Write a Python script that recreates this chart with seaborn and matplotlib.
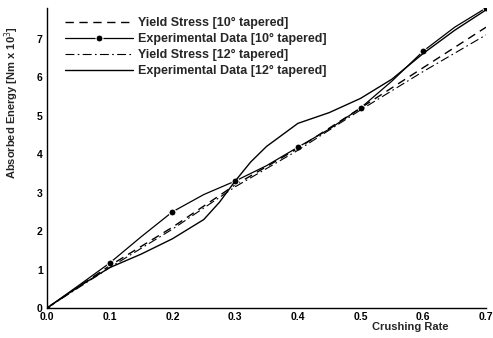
import numpy as np
import pandas as pd
import matplotlib
matplotlib.use("Agg")
import matplotlib.pyplot as plt
from matplotlib.ticker import MultipleLocator, FormatStrFormatter
import seaborn as sns

# ---- data ----
rate_yield = [0.0, 0.1, 0.2, 0.3, 0.4, 0.5, 0.6, 0.7]
yield_10 = [0.0, 1.1, 2.1, 3.2, 4.15, 5.2, 6.25, 7.3]
yield_12 = [0.0, 1.05, 2.05, 3.15, 4.1, 5.15, 6.15, 7.1]

rate_exp10 = [0.0, 0.05, 0.1, 0.15, 0.2, 0.25, 0.3, 0.35, 0.4, 0.45, 0.5, 0.55, 0.6, 0.65, 0.7]
exp_10 = [0.0, 0.58, 1.17, 1.85, 2.5, 2.95, 3.3, 3.7, 4.18, 4.65, 5.2, 5.9, 6.68, 7.3, 7.8]

rate_exp12 = [0.0, 0.05, 0.1, 0.15, 0.2, 0.25, 0.275, 0.3, 0.325, 0.35, 0.4, 0.45, 0.5, 0.55, 0.6, 0.65, 0.7]
exp_12 = [0.0, 0.55, 1.05, 1.4, 1.8, 2.3, 2.75, 3.3, 3.8, 4.2, 4.8, 5.08, 5.45, 5.95, 6.62, 7.22, 7.75]

labels = ["Yield Stress [10° tapered]", "Experimental Data [10° tapered]",
          "Yield Stress [12° tapered]", "Experimental Data [12° tapered]"]

sns.set_style("white")
plt.rcParams['font.family'] = ['Liberation Sans', 'DejaVu Sans']

fig = plt.figure(figsize=(4.93, 3.38), dpi=100)
ax = fig.add_axes([47/493, 1-308/338, (486-47)/493, (308-8)/338])

sns.lineplot(x=rate_yield, y=yield_10, ax=ax, color='black', lw=1.0,
             linestyle=(0, (6, 4)), label=labels[0], sort=False)
sns.lineplot(x=rate_exp10, y=exp_10, ax=ax, color='black', lw=0.9,
             marker='o', markersize=5, markevery=2, label=labels[1], sort=False)
sns.lineplot(x=rate_yield, y=yield_12, ax=ax, color='black', lw=0.8,
             linestyle=(0, (8, 3, 1.5, 3)), label=labels[2], sort=False)
sns.lineplot(x=rate_exp12, y=exp_12, ax=ax, color='black', lw=1.0,
             label=labels[3], sort=False)

ax.set_xlim(0, 0.7)
ax.set_ylim(0, 7.8)
ax.xaxis.set_major_locator(MultipleLocator(0.1))
ax.xaxis.set_minor_locator(MultipleLocator(0.02))
ax.yaxis.set_major_locator(MultipleLocator(1))
ax.yaxis.set_minor_locator(MultipleLocator(0.2))
ax.xaxis.set_major_formatter(FormatStrFormatter('%.1f'))
ax.yaxis.set_major_formatter(FormatStrFormatter('%d'))
ax.tick_params(which='major', direction='in', length=6, width=0.9, colors='black',
               labelsize=7.5, pad=3)
ax.tick_params(which='minor', direction='in', length=3, width=0.8, colors='black')
for lab in ax.get_xticklabels() + ax.get_yticklabels():
    lab.set_fontweight('bold')

sns.despine(ax=ax)
for s in ['left', 'bottom']:
    ax.spines[s].set_color('black')
    ax.spines[s].set_linewidth(1.0)

ax.set_xlabel("Crushing Rate", fontsize=8, fontweight='bold')
ax.xaxis.set_label_coords((410 - 47) / 439, -0.045)
ax.set_ylabel("Absorbed Energy [Nm x 10$^3$]", fontsize=8, fontweight='bold')
ax.yaxis.set_label_coords(-(47 - 21) / 439, 0.685)

leg = ax.legend(loc='upper left', bbox_to_anchor=(65/493, 1-17/338),
                bbox_transform=fig.transFigure, frameon=False,
                borderpad=0, borderaxespad=0, handlelength=5.4,
                handletextpad=0.4, labelspacing=0.32,
                prop={'size': 9, 'weight': 'bold'})

fig.savefig("out.png", dpi=100)
